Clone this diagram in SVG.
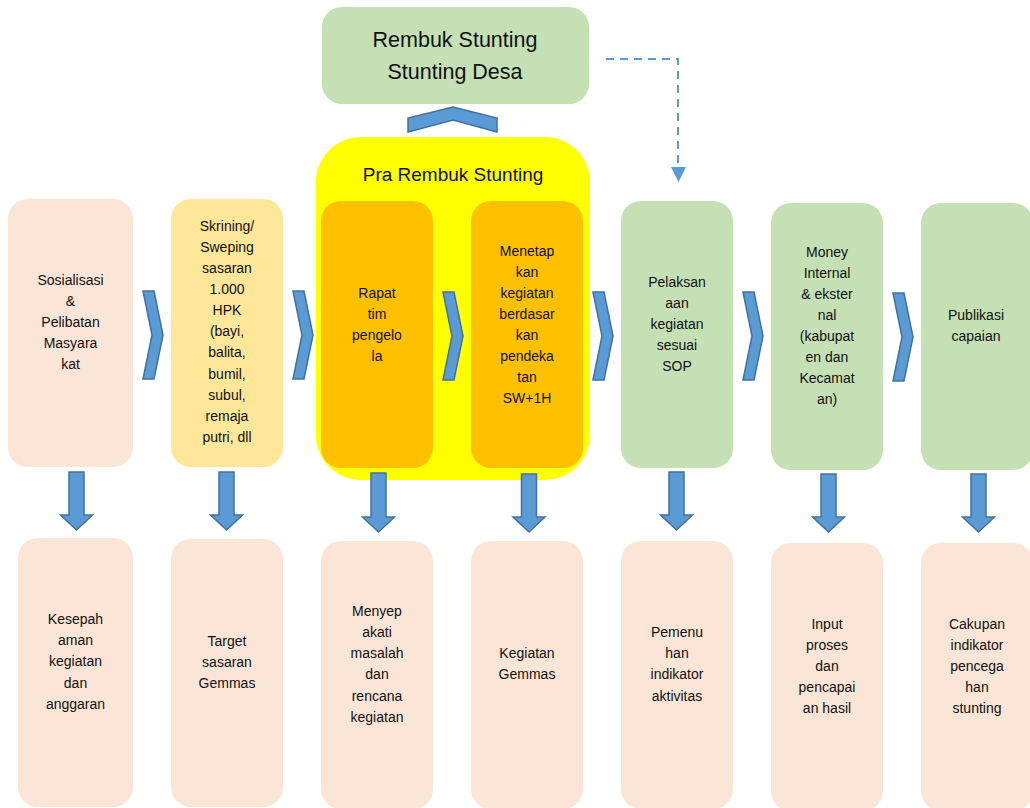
<svg xmlns="http://www.w3.org/2000/svg" width="1030" height="808" viewBox="0 0 1030 808">
<style>
text{font-family:"Liberation Sans",Arial,sans-serif;font-size:14px;fill:#111;text-anchor:middle}
.peach{fill:#fbe5d6}
.lyel{fill:#ffe699}
.orng{fill:#ffc000}
.grn{fill:#c5e0b4}
.blue{fill:#5b9bd5;stroke:#41719c;stroke-width:1.5;stroke-linejoin:miter}
.dash{fill:none;stroke:#5b9bd5;stroke-width:2;stroke-dasharray:8 6}
</style>
<rect width="1030" height="808" fill="#fff"/>

<g id="pra-rembuk">
<rect x="316" y="137" width="274" height="343" rx="45" fill="#ffff00"/>
<text x="453" y="181" style="font-size:19px">Pra Rembuk Stunting</text>
</g>

<g id="rembuk-desa">
<rect class="grn" x="322" y="7" width="267" height="97" rx="20"/>
<text x="455" y="47" style="font-size:21.5px">Rembuk Stunting</text>
<text x="455" y="79" style="font-size:21.5px">Stunting Desa</text>
</g>

<g id="n1"><rect class="peach" x="8" y="199" width="125" height="268" rx="20"/>
<text x="70.5" y="285">Sosialisasi</text><text x="70.5" y="306">&amp;</text><text x="70.5" y="327">Pelibatan</text><text x="70.5" y="348">Masyara</text><text x="70.5" y="369">kat</text></g>

<g id="n2"><rect class="lyel" x="171" y="199" width="112" height="268" rx="20"/>
<text x="227" y="231">Skrining/</text><text x="227" y="252">Sweping</text><text x="227" y="273">sasaran</text><text x="227" y="294">1.000</text><text x="227" y="315">HPK</text><text x="227" y="336">(bayi,</text><text x="227" y="357">balita,</text><text x="227" y="379">bumil,</text><text x="227" y="400">subul,</text><text x="227" y="421">remaja</text><text x="227" y="442">putri, dll</text></g>

<g id="n3"><rect class="orng" x="321" y="201" width="112" height="267" rx="20"/>
<text x="377" y="298">Rapat</text><text x="377" y="319">tim</text><text x="377" y="340">pengelo</text><text x="377" y="361">la</text></g>

<g id="n4"><rect class="orng" x="471" y="201" width="112" height="267" rx="20"/>
<text x="527" y="256">Menetap</text><text x="527" y="277">kan</text><text x="527" y="298">kegiatan</text><text x="527" y="319">berdasar</text><text x="527" y="340">kan</text><text x="527" y="361">pendeka</text><text x="527" y="382">tan</text><text x="527" y="403">SW+1H</text></g>

<g id="n5"><rect class="grn" x="621" y="201" width="112" height="267" rx="20"/>
<text x="677" y="287">Pelaksan</text><text x="677" y="308">aan</text><text x="677" y="329">kegiatan</text><text x="677" y="350">sesuai</text><text x="677" y="371">SOP</text></g>

<g id="n6"><rect class="grn" x="771" y="203" width="112" height="267" rx="20"/>
<text x="827" y="257">Money</text><text x="827" y="278">Internal</text><text x="827" y="299">&amp; ekster</text><text x="827" y="320">nal</text><text x="827" y="341">(kabupat</text><text x="827" y="362">en dan</text><text x="827" y="383">Kecamat</text><text x="827" y="404">an)</text></g>

<g id="n7"><rect class="grn" x="921" y="203" width="112" height="267" rx="20"/>
<text x="976" y="320">Publikasi</text><text x="976" y="341">capaian</text></g>

<g id="b1"><rect class="peach" x="18" y="538" width="115" height="269" rx="20"/>
<text x="75.5" y="624">Kesepah</text><text x="75.5" y="645">aman</text><text x="75.5" y="666">kegiatan</text><text x="75.5" y="688">dan</text><text x="75.5" y="709">anggaran</text></g>

<g id="b2"><rect class="peach" x="171" y="539" width="112" height="268" rx="20"/>
<text x="227" y="646">Target</text><text x="227" y="667">sasaran</text><text x="227" y="688">Gemmas</text></g>

<g id="b3"><rect class="peach" x="321" y="541" width="112" height="268" rx="20"/>
<text x="377" y="616">Menyep</text><text x="377" y="637">akati</text><text x="377" y="658">masalah</text><text x="377" y="679">dan</text><text x="377" y="701">rencana</text><text x="377" y="722">kegiatan</text></g>

<g id="b4"><rect class="peach" x="471" y="541" width="112" height="268" rx="20"/>
<text x="527" y="658">Kegiatan</text><text x="527" y="679">Gemmas</text></g>

<g id="b5"><rect class="peach" x="621" y="541" width="112" height="268" rx="20"/>
<text x="677" y="637">Pemenu</text><text x="677" y="658">han</text><text x="677" y="679">indikator</text><text x="677" y="701">aktivitas</text></g>

<g id="b6"><rect class="peach" x="771" y="543" width="112" height="268" rx="20"/>
<text x="827" y="629">Input</text><text x="827" y="650">proses</text><text x="827" y="671">dan</text><text x="827" y="692">pencapai</text><text x="827" y="713">an hasil</text></g>

<g id="b7"><rect class="peach" x="921" y="543" width="112" height="268" rx="20"/>
<text x="977" y="629">Cakupan</text><text x="977" y="650">indikator</text><text x="977" y="671">pencega</text><text x="977" y="692">han</text><text x="977" y="713">stunting</text></g>

<g id="connectors">
<path class="blue" d="M408,132 L408,118 L453,107 L497,118 L497,132 L453,120 Z"/>
<path class="dash" d="M606,59 H678 V168"/>
<path d="M671,167 L686,167 L678.5,182 Z" fill="#5b9bd5"/>
<path class="blue" d="M143,291 L154,291 L163,335 L154,379 L143,379 L152,335 Z"/>
<path class="blue" d="M293,291 L304,291 L313,335 L304,379 L293,379 L302,335 Z"/>
<path class="blue" d="M443,292 L454,292 L463,336 L454,380 L443,380 L452,336 Z"/>
<path class="blue" d="M593,292 L604,292 L613,336 L604,380 L593,380 L602,336 Z"/>
<path class="blue" d="M743,292 L754,292 L763,336 L754,380 L743,380 L752,336 Z"/>
<path class="blue" d="M893,293 L904,293 L913,337 L904,381 L893,381 L902,337 Z"/>
<path class="blue" d="M69,472 H84 V515 H92.5 L76.5,530 L60.5,515 H69 Z"/>
<path class="blue" d="M219,472 H234 V515 H242.5 L226.5,530 L210.5,515 H219 Z"/>
<path class="blue" d="M371,473 H386 V517 H394.5 L378.5,532 L362.5,517 H371 Z"/>
<path class="blue" d="M521.5,474 H536.5 V517 H545 L529,532 L513,517 H521.5 Z"/>
<path class="blue" d="M669,472 H684 V515 H692.5 L676.5,530 L660.5,515 H669 Z"/>
<path class="blue" d="M821,474 H836 V517 H844.5 L828.5,532 L812.5,517 H821 Z"/>
<path class="blue" d="M971,474 H986 V517 H994.5 L978.5,532 L962.5,517 H971 Z"/>
</g>
</svg>
